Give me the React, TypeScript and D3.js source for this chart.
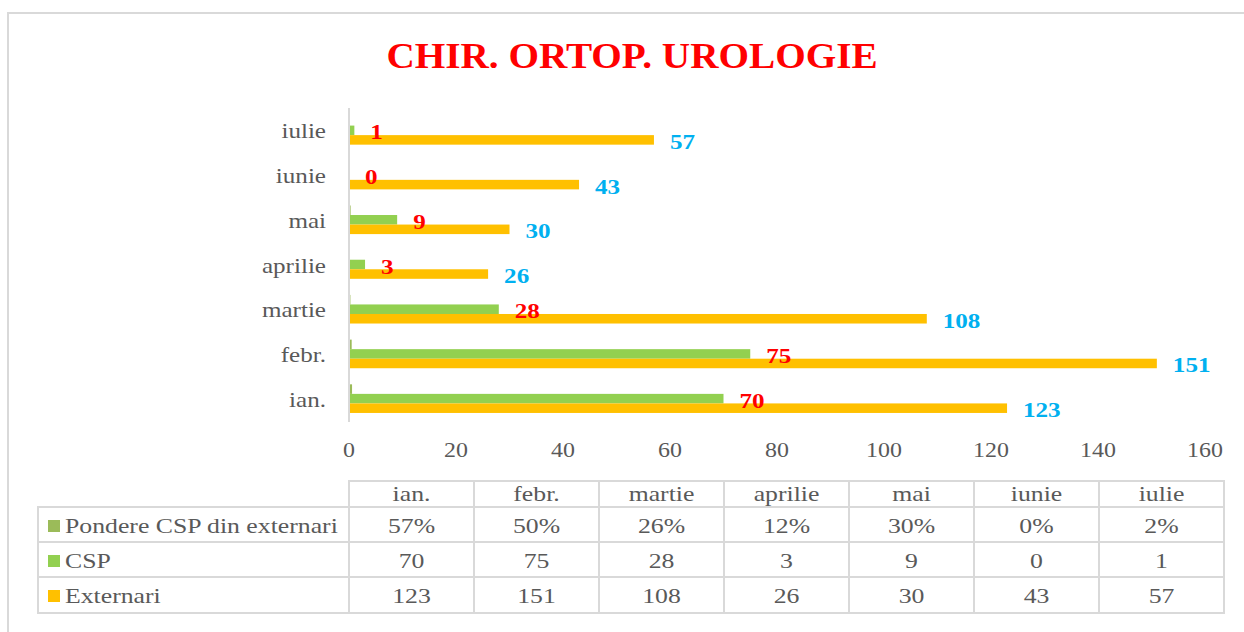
import * as d3 from "d3";

const width = 1244;
const height = 632;

// data
const months = ["ian.", "febr.", "martie", "aprilie", "mai", "iunie", "iulie"];
const csp = [70, 75, 28, 3, 9, 0, 1];
const externari = [123, 151, 108, 26, 30, 43, 57];
const pondere = [0.57, 0.5, 0.26, 0.12, 0.3, 0, 0.02];
const seriesNames = ["Pondere CSP din externari", "CSP", "Externari"];
const seriesColors = ["#9BBB59", "#92D050", "#FFC000"];

const gray = "#595959";
const grid = "#d9d9d9";
const font = "'Liberation Serif', 'Times New Roman', serif";
const stretch = 1.14;

// text squeezed/stretched sideways like the source image
const T = ({ x, y, sx = stretch, anchor = "middle", size = 22, fill = gray, bold = false, children }: any) => (
  <text
    transform={`translate(${x},${y}) scale(${sx},1)`}
    textAnchor={anchor}
    fontSize={size}
    fontFamily={font}
    fontWeight={bold ? "bold" : "normal"}
    fill={fill}
  >
    {children}
  </text>
);

const App = () => {
  const x = d3.scaleLinear().domain([0, 160]).range([349, 1205]);
  // iulie at the top
  const y = d3
    .scaleBand()
    .domain([...months].reverse())
    .range([108, 421])
    .paddingInner(0.36)
    .paddingOuter(0.18);
  const ySeries = d3.scaleBand().domain(seriesNames).range([0, y.bandwidth()]);

  const values = [pondere, csp, externari];

  // table
  const col = d3.scaleBand().domain(months).range([349, 1224]);
  const rowTops = [481, 507, 542, 577, 613];
  const legendLeft = 38;
  const tableRows = [
    pondere.map((v) => `${Math.round(v * 100)}%`),
    csp.map(String),
    externari.map(String),
  ];
  const baselines = [533, 568, 603];
  const tableStretch = 1.17;

  return (
    <div style={{ position: "absolute", left: 0, top: 0 }}>
      <svg width={width} height={height} style={{ display: "block" }}>
        <rect width={width} height={height} fill="#fff" />
        {/* frame */}
        <path d={`M8,${height} V13 H${width}`} fill="none" stroke={grid} strokeWidth={2} />

        <T x={632} y={68} size={36} sx={1.09} bold fill="#FF0000">
          CHIR. ORTOP. UROLOGIE
        </T>

        {/* bars */}
        {months.map((m, i) =>
          seriesNames.map((s, k) => (
            <rect
              key={m + s}
              x={x(0)}
              y={(y(m) as number) + (ySeries(s) as number)}
              width={x(values[k][i]) - x(0)}
              height={ySeries.bandwidth()}
              fill={seriesColors[k]}
            />
          ))
        )}

        {/* axis line */}
        <line x1={x(0)} x2={x(0)} y1={108} y2={422} stroke={grid} strokeWidth={2} />

        {/* category labels */}
        {months.map((m) => (
          <T key={m} x={326} y={(y(m) as number) + y.bandwidth() / 2 + 8} anchor="end">
            {m}
          </T>
        ))}

        {/* x ticks */}
        {x.ticks(8).map((t) => (
          <T key={t} x={x(t)} y={457} size={21}>
            {t}
          </T>
        ))}

        {/* data labels */}
        {months.map((m, i) => {
          const yc = (y(m) as number) + (ySeries("CSP") as number) + ySeries.bandwidth() / 2;
          const ye = (y(m) as number) + (ySeries("Externari") as number) + ySeries.bandwidth() / 2;
          return (
            <g key={m}>
              <T x={x(csp[i]) + 16} y={yc + 9} anchor="start" bold fill="#FF0000">
                {csp[i]}
              </T>
              <T x={x(externari[i]) + 16} y={ye + 9} anchor="start" bold fill="#00B0F0">
                {externari[i]}
              </T>
            </g>
          );
        })}

        {/* data table */}
        <g fill="none" stroke={grid} strokeWidth={2}>
          <rect x={349} y={rowTops[0]} width={875} height={rowTops[1] - rowTops[0]} />
          <rect x={legendLeft} y={rowTops[1]} width={1224 - legendLeft} height={rowTops[4] - rowTops[1]} />
          {rowTops.slice(2, 4).map((r) => (
            <line key={r} x1={legendLeft} x2={1224} y1={r} y2={r} />
          ))}
          {months.map((m) => (
            <line key={m} x1={col(m)} x2={col(m)} y1={rowTops[0]} y2={rowTops[4]} />
          ))}
        </g>
        {months.map((m) => (
          <T key={m} x={(col(m) as number) + col.bandwidth() / 2} y={501} sx={tableStretch}>
            {m}
          </T>
        ))}
        {seriesNames.map((s, k) => (
          <g key={s}>
            <rect x={48} y={baselines[k] - 13} width={12} height={12} fill={seriesColors[k]} />
            <T x={65} y={baselines[k]} anchor="start" sx={tableStretch}>
              {s}
            </T>
            {tableRows[k].map((v, i) => (
              <T key={i} x={(col(months[i]) as number) + col.bandwidth() / 2} y={baselines[k]} sx={tableStretch}>
                {v}
              </T>
            ))}
          </g>
        ))}
      </svg>
    </div>
  );
};

export default App;
